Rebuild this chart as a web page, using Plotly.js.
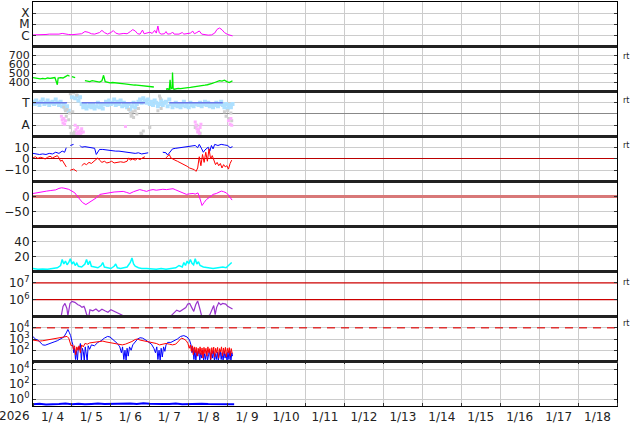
<!DOCTYPE html>
<html><head><meta charset="utf-8">
<script src="https://cdn.plot.ly/plotly-3.0.1.min.js"></script>
<style>html,body{margin:0;padding:0;background:#fff}</style>
</head><body><div id="chart" style="width:634px;height:424px"></div>
<script>
// ---- time base: hours after 2026-01-04 00:00 UTC ----
const startDate = '2026-01-04';
const endDate = '2026-01-19';
const yearLabel = '2026';
const rtLabel = 'rt';

// Panel 1: X-ray flux [hour, W/m2]
const xrayData = [[0,1.1e-6],[3,1.1e-6],[6,1.05e-6],[8,1.2e-6],[10,1.3e-6],[12,1.25e-6],[14,1.4e-6],[16,1.3e-6],[18,1.5e-6],[20,1.3e-6],[22,1.2e-6],[24,1.15e-6],[27,1.2e-6],[30,1.4e-6],[32,2.2e-6],[34,1.9e-6],[36,1.4e-6],[38,1.3e-6],[41,1.8e-6],[42.5,2.8e-6],[44,1.8e-6],[46,1.3e-6],[48,1.8e-6],[49.5,2.7e-6],[51,1.6e-6],[53,1.3e-6],[56,1.5e-6],[58,1.4e-6],[60,2.2e-6],[61.5,3.3e-6],[63,2.5e-6],[64.5,1.4e-6],[66,1.3e-6],[67.5,3.0e-6],[68.5,1.4e-6],[70,1.5e-6],[72,1.9e-6],[73.5,1.5e-6],[75,2.8e-6],[76,1.6e-6],[77,7e-6],[77.8,1.7e-6],[79,1.3e-6],[81,1.4e-6],[82,2.2e-6],[83,1.3e-6],[85,1.4e-6],[86,2.0e-6],[87,1.3e-6],[90,1.3e-6],[92,1.8e-6],[93,1.3e-6],[95,1.4e-6],[97,1.6e-6],[98.5,2.4e-6],[99.5,1.4e-6],[101,1.8e-6],[102.5,2.5e-6],[104,1.3e-6],[106,1.1e-6],[108,1.05e-6],[110,1.1e-6],[112,1.6e-6],[113.5,3.5e-6],[115,4.6e-6],[116.5,3.2e-6],[118,1.8e-6],[120,1.2e-6],[122,0.95e-6],[123,0.9e-6]];

// Panel 2: solar wind speed [hour, km/s]
const windData = [[0,455],[1.5,450],[3,445],[4.5,440],[6,445],[7.5,440],[9,450],[10.5,445],[12,450],[13.5,455],[15,375],[15.5,450],[17,455],[18.5,450],[20,465],[21.5,480],[22.5,470],[23.5,null],[24,465],[26,455],[26.5,null],[27,450],[28,null],[30,440],[31,null],[32,420],[33.5,415],[35,410],[36.5,420],[38,415],[39.5,410],[41,405],[42.5,420],[43.5,480],[44.5,410],[46,400],[47.5,395],[49,400],[50.5,395],[52,390],[53.5,392],[55,388],[56.5,385],[58,380],[59.5,375],[61,378],[62.5,372],[64,370],[65.5,368],[67,365],[68.5,362],[70,360],[71.5,355],[73,352],[74.5,350],[76,null],[77,345],[78,null],[80,335],[81,null],[82,325],[83,330],[84,322],[84.5,430],[85,330],[85.8,340],[86,510],[86.4,330],[87,325],[88,330],[89.5,335],[91,332],[92.5,338],[94,340],[95.5,342],[97,345],[98.5,348],[100,350],[101.5,355],[103,360],[104.5,365],[106,370],[107.5,375],[109,380],[110.5,390],[112,400],[113.5,410],[115,420],[116.5,415],[118,425],[119.5,410],[121,400],[122.5,415],[123,415]];

// Panel 3: sector (T = +1, A = -1)
const towardHourly = [1.1,0.9,1.2,1.0,0.8,1.1,1.3,0.9,1.0,1.2,
 0.8,1.0,1.1,0.9,1.3,1.0,0.8,1.1,0.7,0.9,
 0.5,0.7,0.3,null,1.5,null,1.4,1.6,1.2,1.5,
 0.9,0.6,0.8,0.5,0.7,0.9,0.6,0.8,0.5,0.7,
 1.0,0.6,0.8,0.5,0.9,1.1,0.8,1.2,0.9,1.0,
 1.3,0.8,1.1,0.9,1.2,0.7,1.0,0.8,0.6,0.9,
 0.4,0.7,1.0,0.6,0.9,1.1,1.3,1.0,1.4,1.2,
 1.0,1.3,0.9,1.1,0.8,1.2,1.0,0.7,0.9,1.2,
 0.8,1.0,1.1,0.7,1.3,0.9,0.6,0.8,1.0,0.7,
 0.9,0.6,0.8,1.1,0.7,0.9,0.6,1.0,0.8,0.7,
 0.9,null,0.8,1.0,0.7,0.9,1.1,0.8,1.0,0.7,
 0.9,0.6,0.8,1.0,0.7,0.9,1.1,0.8,0.6,0.9,
 0.5,0.8,0.6,0.9];
const sectorGray = [[19,0.6],[20,0.3],[20.5,-0.2],[21,0.4],[22,-0.5],[22.5,0.1],[23,-1.2],[23,1.8],[23.5,-1.7],[24,-1.8],[24.5,0.2],[25,-1.75],[25,1.9],[25.5,-1.6],[26,-1.85],[27,-1.7],[27,1.7],[28,-1.8],[29,-1.75],[30,-1.6],[59,0.4],[60,0.1],[60.5,-0.2],[61,-0.1],[61.5,0.2],[62,-0.3],[63,0.3],[64,0.0],[65,0.5],[66.5,-1.7],[67,-1.8],[68,-1.5],[72,-1.2],[77,0.3],[78,1.6],[78.5,1.4],[79,0.5],[100,-1.2],[101,-1.0],[102,-1.5],[103,-1.7],[118,0.2],[119,-0.2],[120,0.3],[121,-0.4],[122,0.1],[122.5,-0.6]];
const sectorPink = [[17.5,-0.2],[18,-0.5],[18.5,-0.8],[19,-0.4],[19.5,-0.9],[20,-0.6],[26,-1.0],[26.5,-1.4],[27,-1.7],[27.5,-1.2],[28,-1.6],[28.5,-1.8],[29,-1.5],[29.5,-1.7],[30,-1.3],[31,-1.6],[57,-1.1],[100,-0.7],[100.5,-1.0],[101,-1.3],[101.5,-1.6],[102,-1.4],[102.5,-1.7],[103,-1.2],[103.5,-0.9],[120.5,-0.6],[121.5,-0.9],[122,-0.4],[122.5,-1.0]];
const sectorLine = [[0,1],[21,1],[21.5,null],[30,1],[69,1],[69.5,null],[84,1],[117,1]];

// Panel 4: IMF Bt (blue) and Bz (red) [hour, nT]
const btData = [[0,5],[2,4.5],[4,4],[6,4.5],[8,4],[10,5],[12,4.5],[14,6],[16,5],[18,7],[19.5,6],[20.5,10],[21,null],[23,12],[25,13],[27,null],[29,12],[30,10.5],[32,11],[34,10.5],[36,10],[38,9.5],[39,4],[40,6],[41,8.5],[43,8.5],[45,8],[47,7.5],[49,7.5],[51,7],[53,7],[55,6.5],[57,6.5],[59,6],[61,5.5],[63,5],[65,5.5],[67,4.5],[69,5],[71,5.5],[72,null],[75,7],[76,null],[80,6],[82,5.5],[83,3.5],[84.5,6],[86,9],[88,9.5],[90,10],[92,10],[94,10.5],[96,11],[98,11.5],[100,12],[101.5,10],[102.5,13],[104,9],[105,6],[106,8],[108,10.5],[109,7],[110,12],[111,9],[112,13],[114,12],[116,13],[118,12.5],[120,12],[121.5,10],[122.5,11],[123,11]];
const bzData = [[0,1],[1.5,2],[3,0.5],[4.5,1.5],[6,1],[7.5,0],[9,1.5],[10.5,2.5],[12,1],[13.5,2],[15,3],[16,1],[17,-2],[18,-1],[19.5,-5],[20.5,-7],[21,null],[23,-10],[25,-9],[27,-11],[28,null],[30,-6],[31.5,-4],[33,-5],[34.5,-3],[36,-4],[37.5,-2],[39,0],[40,1],[41,-1],[42.5,-3],[44,-2],[45.5,-3.5],[47,-3],[48.5,-2],[50,-3.5],[52,-3],[54,-2.5],[56,-3],[58,-2],[59,1],[60,-1],[61.5,0],[63,-1],[64.5,0.5],[66,-0.5],[67.5,1],[69,2],[70,null],[72,3],[73,null],[75,4],[76,null],[78,2],[79,null],[82,1],[83,3],[84,4],[85,1],[86,0],[87.5,-1],[89,-2],[90.5,-3],[92,-4],[93.5,-5],[95,-6.5],[96.5,-8],[98,-9],[99.5,-9.5],[100.5,-11],[101.5,-8],[102.5,2],[103.5,-6],[104.5,4],[105.5,-3],[106.5,6],[107.5,-2],[108.5,9],[109.5,0],[110.5,3],[111.5,-2],[112.5,-5],[113.5,-3],[114.5,-6],[115.5,-4],[116.5,-8],[117.5,-5],[118.5,-7],[119.5,-6],[120.5,-9],[121.5,-4],[122.5,-1]];

// Panel 5: Dst-like index [hour, nT]
const dstData = [[0,10],[3,12],[6,15],[8.4,18],[11,20],[14,22],[16,27],[17.6,29],[19,28],[20.7,27],[22,24],[24,18],[25.8,12],[27,3],[28.9,-10],[30.5,-20],[32.6,-27],[33.5,-24],[35,-20],[37,-14],[39.2,-4],[41.2,7],[43,9],[45,11],[47.4,14],[50,15],[53,16],[55.6,17],[57.5,14],[59.7,10],[62,16],[64,20],[65.8,23],[68,20],[70,17],[72,21],[74,23],[76,21],[78,23],[80,24],[82.3,23],[84,24],[86.3,26],[88,22],[90.5,17],[92.5,12],[94.6,7],[96.5,9],[98.7,10],[100,8],[101.7,12],[102.8,-5],[104.2,-30],[105.5,-20],[106.9,-10],[109,-2],[111,7],[113,10],[115,15],[116.1,18],[117.5,16],[119.2,12],[120.5,5],[121.2,-1],[122,-5],[122.7,-12]];

// Panel 6: cyan index
const cyanData = [[0,4],[3,3],[6,3.5],[9,3],[12,4],[15,5],[17,8],[18,16],[19,10],[20,14],[21,9],[22,12],[23,17],[24,10],[25,13],[26,8],[27,11],[28,7],[30,6],[32,10],[33,16],[34,9],[35,14],[36,7],[38,6],[40,5],[42,8],[43,12],[44,6],[46,5],[48,4],[50,7],[51,10],[52,5],[54,4],[56,5],[58,6],[60,12],[61,18],[62,10],[63,7],[65,5],[67,4],[70,4],[73,3],[76,3],[79,4],[82,3],[85,4],[88,5],[90,8],[92,6],[93,12],[94,8],[95,14],[96,10],[97,16],[98,11],[99,9],[100,17],[101,10],[102,13],[103,8],[105,6],[108,5],[111,4],[114,5],[117,6],[119,5],[121,9],[122.5,12]];

// Panel 7: electron flux (purple)
const purpleData = [[17.5,1.2e5],[18.5,4e5],[19.7,6e5],[20.9,3e5],[21.5,1.1e5],[22.8,6e5],[24,8e5],[25.8,7e5],[27.7,5e5],[28.9,4.5e5],[30.2,3.5e5],[31.4,4e5],[32,3e5],[33.2,1.2e5],[34.5,1.1e5],[35.1,2.5e5],[36.9,2.2e5],[38.8,2.8e5],[40.6,2.0e5],[42.5,2.7e5],[44.3,2.2e5],[46.2,1.8e5],[48,2.5e5],[49.8,2.0e5],[51.7,1.6e5],[53.5,1.4e5],[55.4,1.15e5],[56.6,1.05e5],[57,null],[84.9,1.05e5],[86.8,1.6e5],[88.6,2.4e5],[90.5,2.0e5],[92.3,2.6e5],[94.2,3.4e5],[95.4,5.5e5],[96.6,6e5],[97.8,3.5e5],[99.1,2.0e5],[100.3,5e5],[101.5,8.5e5],[102.8,3e5],[104,1.05e5],[105.2,1.0e5],[107.1,1.0e5],[108.9,1.2e5],[110.2,2.5e5],[111.4,4.5e5],[112.3,1.3e5],[113.2,3.5e5],[114.5,6.5e5],[115.7,5e5],[116.9,6e5],[118.8,5.5e5],[120,4e5],[121.8,3e5],[123,2.8e5]];
const purpleLevels = [1e6, 1e7];

// Panel 8: proton flux blue / red
const p8Blue = [[0,1600],[1.5,1000],[3,800],[4.5,500],[6,300],[7.5,280],[9,350],[11,450],[13,550],[15,700],[17,1000],[19,1500],[20.5,3500],[21.5,7000],[22.3,4000],[23.2,2000],[24,600],[24.6,300],[25.1,60],[25.6,150],[26.2,15],[26.8,90],[27.4,12],[28,200],[28.6,120],[29.2,400],[29.8,12],[30.4,150],[31,80],[31.6,12],[32.2,200],[32.8,60],[33.4,12],[34,250],[34.9,120],[36,300],[37.9,250],[40,500],[42,700],[44,1200],[46,1700],[47.5,1500],[49,1000],[50.5,600],[52,400],[53.5,200],[54.5,60],[55.2,200],[56,15],[56.7,100],[57.4,12],[58,150],[58.7,30],[59.5,200],[60.5,100],[61.5,300],[63,600],[64.5,1000],[66,1300],[67.5,1200],[69,900],[71,600],[73,350],[74.5,150],[75.5,60],[76.3,200],[77,15],[77.7,100],[78.4,12],[79,150],[79.7,25],[80.5,200],[81.3,80],[82,300],[83,500],[85,500],[87,700],[89,1000],[91,1700],[93,2000],[95,1500],[96.5,800],[97.4,300],[98,60],[98.6,150],[99.2,15],[99.8,100],[100.4,12],[101,80],[101.6,30],[102.2,120],[102.8,12],[103.4,60],[104,20],[104.6,100],[105.2,12],[105.8,50],[106.4,15],[107,80],[107.6,12],[108.2,40],[108.8,100],[109.4,12],[110,60],[110.6,20],[111.2,90],[111.8,12],[112.4,50],[113,15],[113.6,70],[114.2,12],[114.8,40],[115.4,100],[116,15],[116.6,60],[117.2,12],[117.8,80],[118.4,20],[119,50],[119.6,12],[120.2,70],[120.8,15],[121.4,90],[122,12],[122.6,60],[123,30]];
const p8Red = [[0,800],[2,700],[4,650],[6,700],[8,800],[10,900],[12,1000],[14,1100],[16,1200],[18,1400],[20,1600],[21,1700],[22,1200],[22.8,400],[23.5,250],[24.3,300],[25,120],[25.6,250],[26.3,40],[27,200],[27.7,100],[28.4,250],[29.2,60],[30,300],[31,200],[32,400],[33.5,350],[35,450],[37,500],[39,600],[41,600],[43,650],[45,550],[47,500],[49,450],[51,400],[53,350],[55,300],[57,350],[59,450],[61,600],[63,900],[64.5,1000],[66,800],[68,700],[70,600],[72,550],[74,450],[76,400],[78,300],[80,350],[82,400],[84,350],[86,300],[88,350],[90,700],[91.5,1200],[93,1000],[94.5,700],[95.5,400],[96.3,150],[97,300],[97.6,80],[98.2,250],[98.8,40],[99.4,200],[100,60],[100.6,180],[101.2,30],[101.8,150],[102.4,50],[103,200],[103.6,40],[104.2,160],[104.8,20],[105.4,180],[106,50],[106.6,150],[107.2,30],[107.8,200],[108.4,60],[109,140],[109.6,15],[110.2,170],[110.8,50],[111.4,190],[112,25],[112.6,150],[113.2,60],[113.8,180],[114.4,20],[115,140],[115.6,70],[116.2,200],[116.8,30],[117.4,160],[118,50],[118.6,180],[119.2,25],[119.8,150],[120.4,60],[121,170],[121.6,30],[122.2,140],[122.8,50]];
const p8Threshold = 1e4;

// Panel 9: low flux blue, every 4 hours
const p9Blue4h = [0.22,0.25,0.2,0.24,0.23,0.26,0.22,0.25,0.21,0.24,0.27,0.23,0.25,0.22,0.24,0.26,0.23,0.3,0.25,0.22,0.24,0.23,0.26,0.22,0.24,0.21,0.25,0.23,0.24,0.22,0.23,0.22];

// ---- helpers ----
const T0 = Date.parse(startDate + 'T00:00:00Z');
function toDate(h){ return new Date(T0 + h*3600000).toISOString().slice(0,19).replace('T',' '); }
const hx = a => a.map(p => toDate(p[0]));
const vy = a => a.map(p => p[1]);

function line(data, yax, color, width, extra){
  return Object.assign({x: hx(data), y: vy(data), yaxis: yax, xaxis:'x', type:'scatter', mode:'lines',
    line:{color:color, width:width}, connectgaps:false, hoverinfo:'skip'}, extra||{});
}
function level(v, yax, color, width, dash){
  return {x:[startDate, endDate], y:[v, v], yaxis:yax, xaxis:'x', mode:'lines', type:'scatter',
    line:{color:color, width:width, dash:dash||'solid'}, hoverinfo:'skip'};
}

const traces = [
  line(xrayData, 'y', '#ff00ff', 1),
  line(windData, 'y2', '#00ee00', 1.3),
  {x: towardHourly.map((v,i)=>toDate(i)), y: towardHourly, yaxis:'y3', mode:'markers', type:'scatter',
    marker:{color:'#aee0ff', size:4, symbol:'square'}, hoverinfo:'skip'},
  {x: hx(sectorGray), y: vy(sectorGray), yaxis:'y3', mode:'markers', type:'scatter',
    marker:{color:'#cfcfcf', size:3, symbol:'square'}, hoverinfo:'skip'},
  {x: hx(sectorPink), y: vy(sectorPink), yaxis:'y3', mode:'markers', type:'scatter',
    marker:{color:'#ffb0ff', size:3, symbol:'square'}, hoverinfo:'skip'},
  line(sectorLine, 'y3', '#6a78e8', 1.5),
  line(btData, 'y4', '#0000ff', 1),
  line(bzData, 'y4', '#ff0000', 1),
  line(dstData, 'y5', '#ff00ff', 1),
  line(cyanData, 'y6', '#00ffff', 1.5),
  level(purpleLevels[0], 'y7', '#cc0000', 1.3),
  level(purpleLevels[1], 'y7', '#cc0000', 1.3),
  line(purpleData, 'y7', '#9933cc', 1.2),
  line(p8Blue, 'y8', '#0000ff', 1),
  line(p8Red, 'y8', '#ff0000', 1),
  level(p8Threshold, 'y8', '#dd3333', 1.5, '8px,6px'),
  {x: p9Blue4h.map((v,i)=>toDate(i*4)), y: p9Blue4h, yaxis:'y9', mode:'lines', type:'scatter',
    line:{color:'#0000ff', width:2}, hoverinfo:'skip'}
];

// panel boundaries (paper fractions), top to bottom
const bounds = [1, 0.88985, 0.77847, 0.66708, 0.55569, 0.44431, 0.33292, 0.22153, 0.11015, 0];

function yax(i, extra){
  return Object.assign({domain:[bounds[i+1], bounds[i]], anchor:'x', showline:true, linecolor:'#000', linewidth:1,
    mirror:'ticks', ticks:'inside', ticklen:3, tickcolor:'#333', showgrid:true, gridcolor:'#cccccc',
    zeroline:false, tickfont:{size:12, color:'#222'}, fixedrange:true}, extra);
}
const sup = n => '10<sup>' + n + '</sup>';

const layout = {
  width:634, height:424, margin:{l:33, r:17, t:2, b:18}, showlegend:false,
  paper_bgcolor:'#fff', plot_bgcolor:'#fff',
  font:{family:'DejaVu Sans, sans-serif', size:12, color:'#222'},
  xaxis:{type:'date', range:[startDate, endDate], anchor:'y9', domain:[0,1],
    tick0:startDate, dtick:86400000, ticklabelmode:'period', tickformat:'%-m/%e',
    showgrid:true, gridcolor:'#cccccc', showline:true, linecolor:'#000', linewidth:1, mirror:'all',
    ticks:'inside', ticklen:3, tickcolor:'#333', tickfont:{size:12, color:'#222'}, fixedrange:true},
  yaxis: yax(0, {type:'log', range:[-7,-3], tickmode:'array', tickvals:[1e-6,1e-5,1e-4], ticktext:['C','M','X']}),
  yaxis2: yax(1, {range:[300,800], tickmode:'array', tickvals:[400,500,600,700], ticktext:['400','500','600','700'], tickfont:{size:11, color:'#222'}}),
  yaxis3: yax(2, {range:[-2,2], tickmode:'array', tickvals:[-1,1], ticktext:['A','T'], zeroline:true, zerolinecolor:'#888', zerolinewidth:1}),
  yaxis4: yax(3, {range:[-20,20], tickmode:'array', tickvals:[-10,0,10], zeroline:true, zerolinecolor:'#bb0000', zerolinewidth:1}),
  yaxis5: yax(4, {range:[-100,50], tickmode:'array', tickvals:[-50,0], zeroline:true, zerolinecolor:'#d87878', zerolinewidth:3}),
  yaxis6: yax(5, {range:[0,60], tickmode:'array', tickvals:[20,40]}),
  yaxis7: yax(6, {type:'log', range:[5,7.68], tickmode:'array', tickvals:purpleLevels, ticktext:[sup(6), sup(7)], showgrid:false}),
  yaxis8: yax(7, {type:'log', range:[1,5], tickmode:'array', tickvals:[1e2,1e3,1e4], ticktext:[sup(2), sup(3), sup(4)]}),
  yaxis9: yax(8, {type:'log', range:[-0.9,5], tickmode:'array', tickvals:[1,1e2,1e4], ticktext:[sup(0), sup(2), sup(4)]}),
  shapes: bounds.slice(1, 9).map(b => ({type:'line', xref:'paper', yref:'paper', x0:0, x1:1, y0:b, y1:b,
    line:{color:'#222', width:3}})),
  annotations: [
    {text:yearLabel, xref:'paper', yref:'paper', x:-0.031, y:-0.025, xanchor:'center', yanchor:'middle', showarrow:false, font:{size:12, color:'#222'}}
  ].concat([0.8639, 0.7574, 0.6436, 0.3069, 0.2054].map(yy => ({text:rtLabel, xref:'paper', yref:'paper', x:1.006, y:yy,
    xanchor:'left', yanchor:'middle', showarrow:false, font:{size:8, color:'#222'}})))
};

Plotly.newPlot('chart', traces, layout, {displayModeBar:false, staticPlot:true});
</script></body></html>
